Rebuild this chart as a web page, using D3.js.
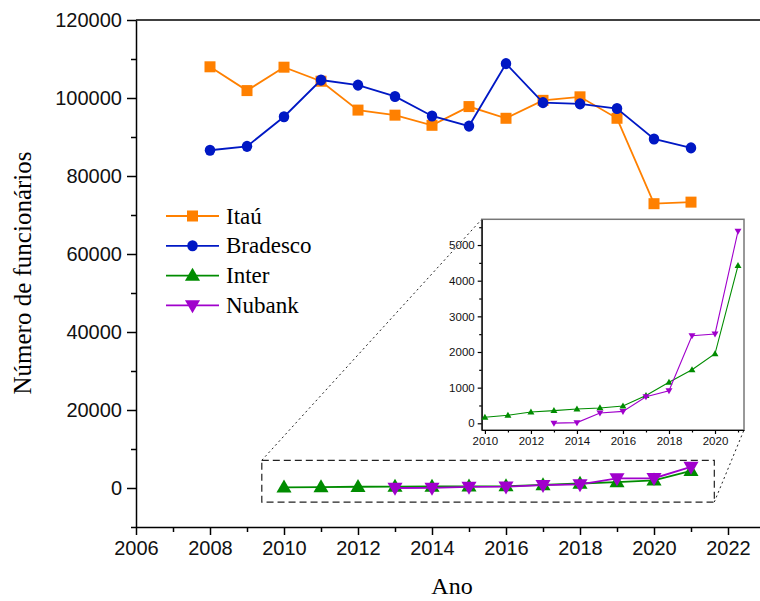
<!DOCTYPE html>
<html><head><meta charset="utf-8">
<script src="https://cdn.jsdelivr.net/npm/d3@7"></script>
<style>body{margin:0;background:#fff}svg{display:block}</style>
</head><body>
<svg id="c" width="760" height="601"></svg>
<script>
const years = [2008,2009,2010,2011,2012,2013,2014,2015,2016,2017,2018,2019,2020,2021];
const itau = [108000,101900,107900,104300,96900,95600,93000,97800,94800,99400,100300,94800,72900,73300];
const bradesco = [86600,87600,95200,104600,103300,100400,95400,92800,108800,98800,98500,97300,89500,87200];
const interYears = [2010,2011,2012,2013,2014,2015,2016,2017,2018,2019,2020,2021];
const inter = [170,225,315,355,400,430,485,780,1150,1500,1950,4420];
const nubankYears = [2013,2014,2015,2016,2017,2018,2019,2020,2021];
const nubank = [5,20,290,335,745,915,2455,2505,5390];
const xTicks = [2006,2008,2010,2012,2014,2016,2018,2020,2022];
const yTicks = [0,20000,40000,60000,80000,100000,120000];
const insetXTicks = [2010,2012,2014,2016,2018,2020];
const insetYTicks = [0,1000,2000,3000,4000,5000];
const seriesNames = ["Itaú","Bradesco","Inter","Nubank"];
const colors = {"Itaú":"#FF8000","Bradesco":"#0018C4","Inter":"#008C00","Nubank":"#A000CC"};

const svg = d3.select("#c");
const x = d3.scaleLinear().domain([2006, 2006 + 624/37]).range([136, 760]);
const y = d3.scaleLinear().domain([-10000, 120000]).range([527, 20]);

// top frame line
svg.append("line").attr("x1",136).attr("x2",760).attr("y1",20).attr("y2",20)
  .attr("stroke","#000").attr("stroke-width",1.5);

// axes
const xAxis = svg.append("g").attr("transform","translate(0,527)")
  .call(d3.axisBottom(x).tickValues(xTicks).tickFormat(d3.format("d")).tickSize(8).tickPadding(6).tickSizeOuter(0));
const xMinor = svg.append("g").attr("transform","translate(0,527)")
  .call(d3.axisBottom(x).tickValues(d3.range(2007,2023,2)).tickFormat("").tickSize(5).tickSizeOuter(0));
xMinor.select(".domain").remove();
const yAxis = svg.append("g").attr("transform","translate(136,0)")
  .call(d3.axisLeft(y).tickValues(yTicks).tickFormat(d3.format("d")).tickSize(9).tickPadding(5).tickSizeOuter(0));
const yMinor = svg.append("g").attr("transform","translate(136,0)")
  .call(d3.axisLeft(y).tickValues(d3.range(-10000,120000,20000)).tickFormat("").tickSize(5).tickSizeOuter(0));
yMinor.select(".domain").remove();
[xAxis,yAxis,xMinor,yMinor].forEach(g=>{
  g.selectAll("path,line").attr("stroke","#000").attr("stroke-width",1.5);
  g.selectAll("text").attr("font-family","'Liberation Sans',Arial,sans-serif").attr("font-size",20).attr("fill","#111");
});

// axis titles
svg.append("text").attr("x",452).attr("y",594).attr("text-anchor","middle")
  .attr("font-family","'Liberation Serif','Times New Roman',serif").attr("font-size",24).text("Ano");
svg.append("text").attr("transform","translate(31,273) rotate(-90)").attr("text-anchor","middle")
  .attr("font-family","'Liberation Serif','Times New Roman',serif").attr("font-size",25).text("Número de funcionários");

// symbol helpers
function marker(g, name, size){
  const c = colors[name];
  if(name==="Itaú") g.append("rect").attr("x",-size/2).attr("y",-size/2).attr("width",size).attr("height",size).attr("fill",c);
  else if(name==="Bradesco") g.append("ellipse").attr("rx",size/2).attr("ry",size/2*1.06).attr("fill",c);
  else if(name==="Inter") g.append("path").attr("d",`M0,${-size*0.6}L${size*0.58},${size*0.4}L${-size*0.58},${size*0.4}Z`).attr("fill",c);
  else g.append("path").attr("d",`M0,${size*0.6}L${size*0.58},${-size*0.4}L${-size*0.58},${-size*0.4}Z`).attr("fill",c);
}

const mainSeries = [
  {name:"Itaú", xs:years, ys:itau, size:11},
  {name:"Bradesco", xs:years, ys:bradesco, size:10.5},
  {name:"Inter", xs:interYears, ys:inter, size:13},
  {name:"Nubank", xs:nubankYears, ys:nubank, size:13}
];
const lineGen = (xs,ys,sx,sy)=>d3.line().x((d,i)=>sx(xs[i])).y(d=>sy(d))(ys);

mainSeries.forEach(s=>{
  svg.append("path").attr("d",lineGen(s.xs,s.ys,x,y)).attr("fill","none")
    .attr("stroke",colors[s.name]).attr("stroke-width",1.8);
  s.ys.forEach((v,i)=>{
    const g = svg.append("g").attr("transform",`translate(${x(s.xs[i])},${y(v)})`);
    marker(g,s.name,s.size);
  });
});

// legend
seriesNames.forEach((n,i)=>{
  const yy = 216 + i*29.8;
  svg.append("line").attr("x1",166).attr("x2",219).attr("y1",yy).attr("y2",yy)
    .attr("stroke",colors[n]).attr("stroke-width",1.8);
  const g = svg.append("g").attr("transform",`translate(192.5,${yy})`);
  marker(g,n,n==="Itaú"?11:(n==="Bradesco"?10.5:13));
  svg.append("text").attr("x",226).attr("y",yy+7.5)
    .attr("font-family","'Liberation Serif','Times New Roman',serif").attr("font-size",23).text(n);
});

// zoom rectangle in main plot
const rx0 = x(2009.4), rx1 = x(2021.63), ry0 = y(7100), ry1 = y(-3600);
svg.append("rect").attr("x",rx0).attr("y",ry0).attr("width",rx1-rx0).attr("height",ry1-ry0)
  .attr("fill","none").attr("stroke","#222").attr("stroke-width",1.2).attr("stroke-dasharray","7,4");

// inset
const ix = d3.scaleLinear().domain([2009.86, 2021.26]).range([481.7, 744]);
const iy = d3.scaleLinear().domain([-188, 5722]).range([430, 219.3]);

// connectors
svg.append("line").attr("x1",rx0).attr("y1",ry0).attr("x2",481.7).attr("y2",219.3)
  .attr("stroke","#222").attr("stroke-width",1).attr("stroke-dasharray","2,3");
svg.append("line").attr("x1",rx1).attr("y1",ry1).attr("x2",744).attr("y2",430)
  .attr("stroke","#222").attr("stroke-width",1).attr("stroke-dasharray","2,3");

svg.append("rect").attr("x",481.7).attr("y",219.3).attr("width",744-481.7).attr("height",430-219.3)
  .attr("fill","#fff").attr("stroke","#777").attr("stroke-width",1.5);

const ixAxis = svg.append("g").attr("transform","translate(0,430)")
  .call(d3.axisBottom(ix).tickValues(insetXTicks).tickFormat(d3.format("d")).tickSize(4).tickPadding(3).tickSizeOuter(0));
const ixMinor = svg.append("g").attr("transform","translate(0,430)")
  .call(d3.axisBottom(ix).tickValues(d3.range(2011,2022,2)).tickFormat("").tickSize(2.5).tickSizeOuter(0));
ixMinor.select(".domain").remove();
const iyAxis = svg.append("g").attr("transform","translate(481.7,0)")
  .call(d3.axisLeft(iy).tickValues(insetYTicks).tickFormat(d3.format("d")).tickSize(4).tickPadding(3).tickSizeOuter(0));
const iyMinor = svg.append("g").attr("transform","translate(481.7,0)")
  .call(d3.axisLeft(iy).tickValues(d3.range(500,6000,1000)).tickFormat("").tickSize(2.5).tickSizeOuter(0));
iyMinor.select(".domain").remove();
[ixAxis,iyAxis,ixMinor,iyMinor].forEach(g=>{
  g.selectAll("path,line").attr("stroke","#000").attr("stroke-width",1.2);
  g.selectAll("text").attr("font-family","'Liberation Sans',Arial,sans-serif").attr("font-size",11.5).attr("fill","#111");
});

[{name:"Inter", xs:interYears, ys:inter},{name:"Nubank", xs:nubankYears, ys:nubank}].forEach(s=>{
  svg.append("path").attr("d",lineGen(s.xs,s.ys,ix,iy)).attr("fill","none")
    .attr("stroke",colors[s.name]).attr("stroke-width",1.1);
  s.ys.forEach((v,i)=>{
    const g = svg.append("g").attr("transform",`translate(${ix(s.xs[i])},${iy(v)})`);
    marker(g,s.name,6);
  });
});
</script>
</body></html>
